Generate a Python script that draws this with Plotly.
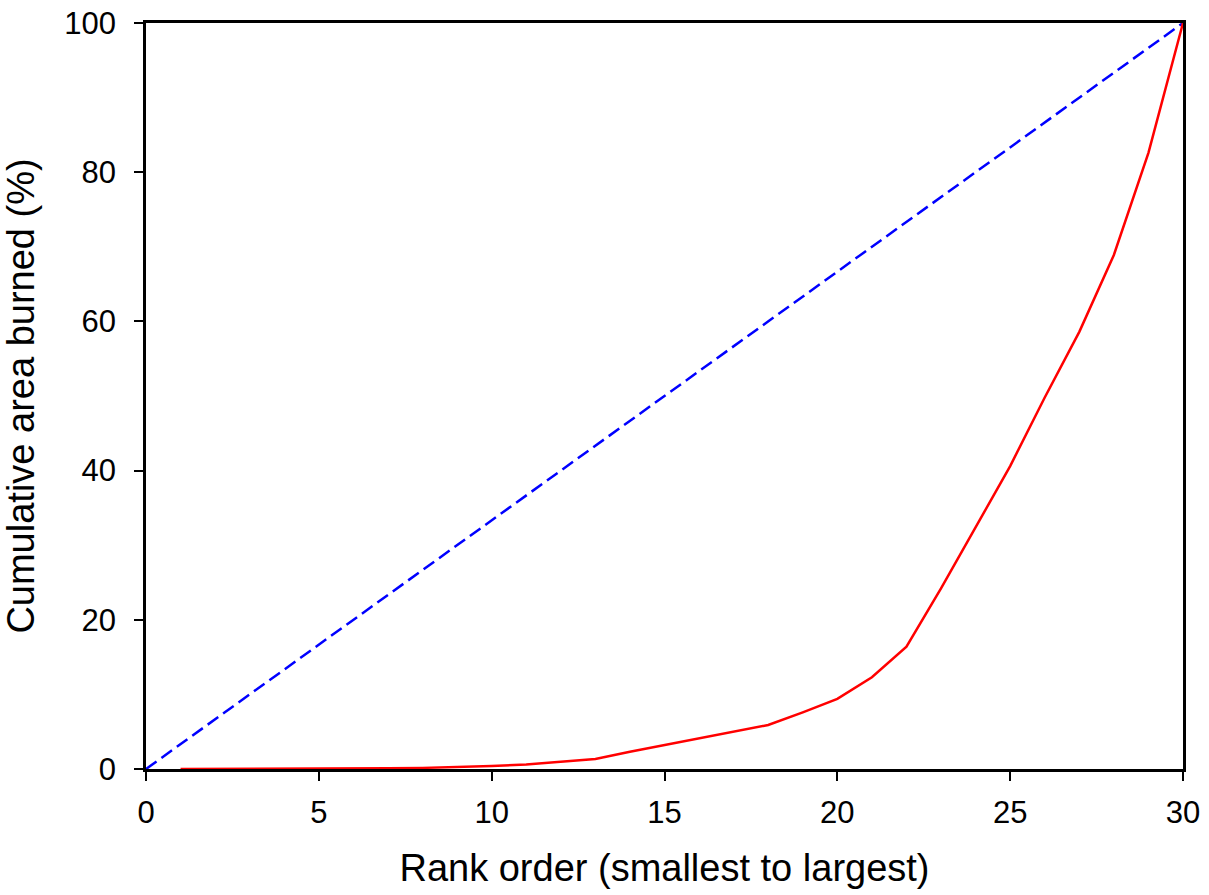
import plotly.graph_objects as go

# Data
rank = list(range(1, 31))
cum_area = [0, 0, 0, 0.02, 0.04, 0.06, 0.1, 0.15, 0.25, 0.4,
            0.6, 0.95, 1.35, 2.3, 3.2, 4.1, 5.0, 5.9, 7.6, 9.4,
            12.3, 16.4, 24.2, 32.5, 40.6, 49.8, 58.6, 68.9, 82.6, 100]
equality_x = [0, 30]
equality_y = [0, 100]

x_ticks = [0, 5, 10, 15, 20, 25, 30]
y_ticks = [0, 20, 40, 60, 80, 100]

FONT = "Liberation Sans, Arial, sans-serif"

fig = go.Figure()
fig.add_trace(go.Scatter(x=equality_x, y=equality_y, mode="lines",
                         line=dict(color="#0000ff", width=2.5, dash="13px,6px"),
                         showlegend=False))
fig.add_trace(go.Scatter(x=rank, y=cum_area, mode="lines",
                         line=dict(color="#ff0000", width=2.5),
                         showlegend=False))

axis_common = dict(showline=True, linecolor="black", linewidth=2.5, mirror=True,
                   ticks="outside", ticklen=9, tickwidth=2, tickcolor="black",
                   showgrid=False, zeroline=False, layer="below traces",
                   ticklabeloverflow="allow",
                   tickfont=dict(family=FONT, size=31, color="black"))

fig.update_xaxes(range=[0, 30], tickvals=x_ticks, ticklabelstandoff=5,
                 title=dict(text="Rank order (smallest to largest)",
                            font=dict(family=FONT, size=38, color="black"),
                            standoff=26),
                 **axis_common)
fig.update_yaxes(range=[0, 100], tickvals=y_ticks, ticklabelstandoff=12,
                 title=dict(text="Cumulative area burned (%)",
                            font=dict(family=FONT, size=38, color="black"),
                            standoff=28),
                 **axis_common)

fig.update_layout(width=1209, height=895,
                  margin=dict(l=146, r=26, t=23, b=126, autoexpand=False),
                  plot_bgcolor="white", paper_bgcolor="white",
                  font=dict(family=FONT, color="black"))

fig.write_html("out.html", config={"displayModeBar": False},
               post_script="document.body.style.margin='0';document.body.style.overflow='hidden';")
